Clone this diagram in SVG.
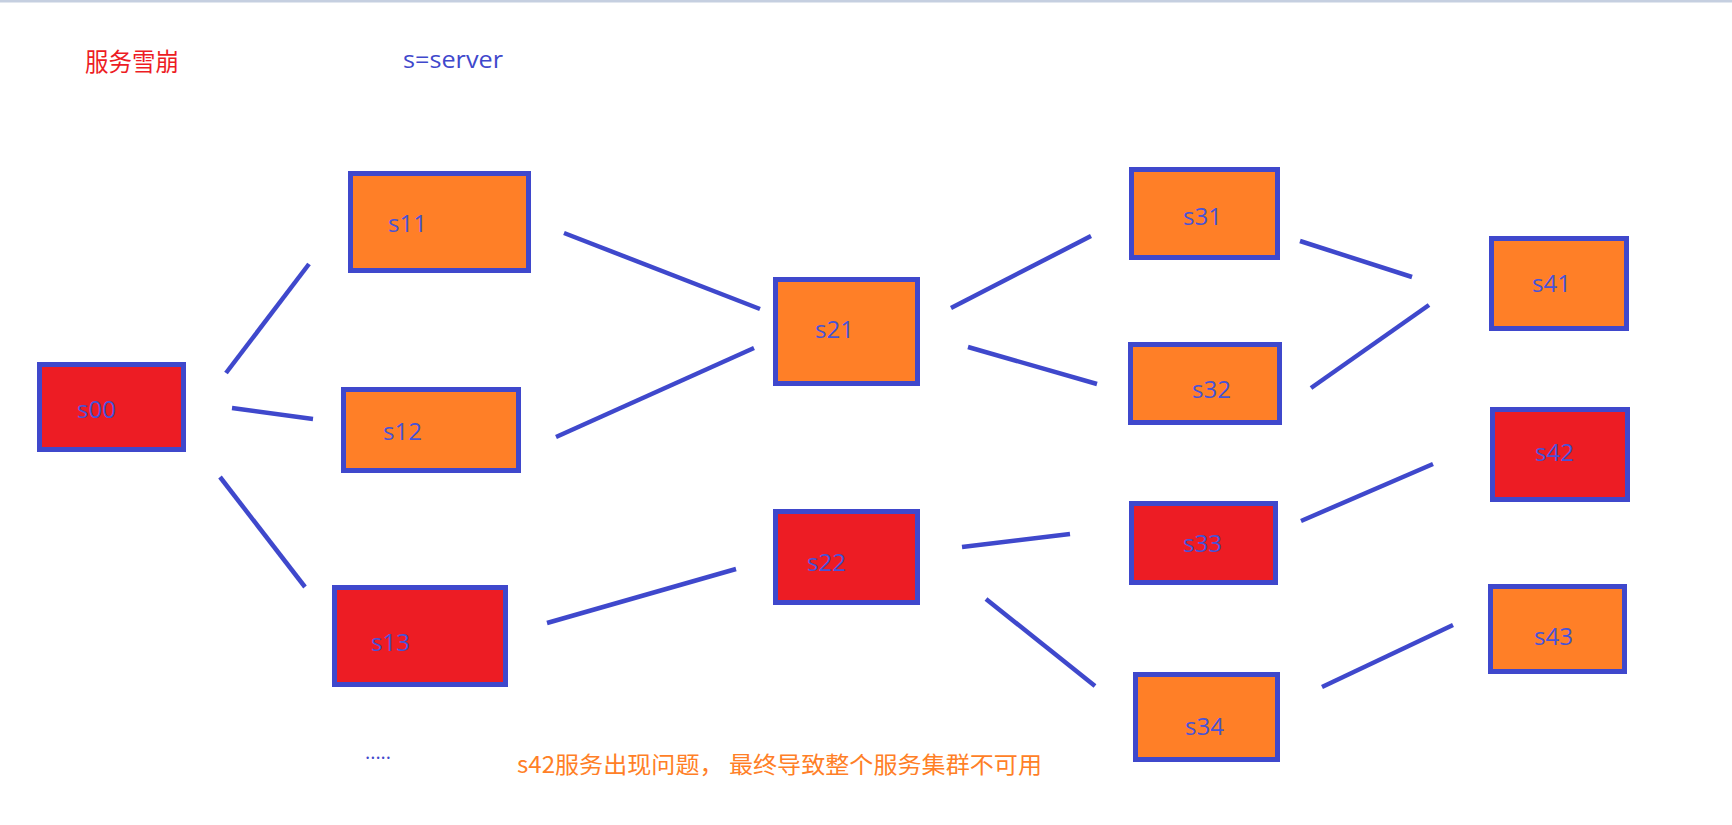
<svg xmlns="http://www.w3.org/2000/svg" width="1732" height="825" viewBox="0 0 1732 825">
<style>
.box{stroke:#3f48cc;stroke-width:5}
.or{fill:#ff7f27}
.rd{fill:#ed1c24}
.lbl{font-family:"Open Sans","Liberation Sans",sans-serif;font-size:24px;fill:#4653d8}
.ln{stroke:#3f48cc;stroke-width:4.5;stroke-linecap:butt;fill:none}
.cjk{font-family:"Noto Sans CJK SC","Noto Sans",sans-serif}
</style>
<rect x="0" y="0" width="1732" height="825" fill="#ffffff"/>
<rect x="0" y="0" width="1732" height="2.5" fill="#c5cfe0"/>
<text x="85" y="71" class="cjk" font-size="25" fill="#ed1c24" textLength="94" lengthAdjust="spacingAndGlyphs">服务雪崩</text>
<text x="403" y="68" font-family="Open Sans, Liberation Sans, sans-serif" font-size="24" fill="#3f48cc" textLength="100" lengthAdjust="spacingAndGlyphs">s=server</text>
<g id="connectors">
<line class="ln" x1="226" y1="373" x2="309" y2="264"/>
<line class="ln" x1="232" y1="408" x2="313" y2="419"/>
<line class="ln" x1="220" y1="477" x2="305" y2="587"/>
<line class="ln" x1="564" y1="233" x2="760" y2="309"/>
<line class="ln" x1="556" y1="437" x2="754" y2="348"/>
<line class="ln" x1="547" y1="623" x2="736" y2="569"/>
<line class="ln" x1="951" y1="308" x2="1091" y2="236"/>
<line class="ln" x1="968" y1="347" x2="1097" y2="384"/>
<line class="ln" x1="962" y1="547" x2="1070" y2="534"/>
<line class="ln" x1="986" y1="599" x2="1095" y2="686"/>
<line class="ln" x1="1300" y1="241" x2="1412" y2="277"/>
<line class="ln" x1="1311" y1="388" x2="1429" y2="305"/>
<line class="ln" x1="1301" y1="521" x2="1433" y2="464"/>
<line class="ln" x1="1322" y1="687" x2="1453" y2="625"/>
</g>
<g id="s00"><rect class="box rd" x="39.5" y="364.5" width="144" height="85"/><text class="lbl" x="77" y="418">s00</text></g>
<g id="s11"><rect class="box or" x="350.5" y="173.5" width="178" height="97"/><text class="lbl" x="388" y="232">s11</text></g>
<g id="s12"><rect class="box or" x="343.5" y="389.5" width="175" height="81"/><text class="lbl" x="383" y="440">s12</text></g>
<g id="s13"><rect class="box rd" x="334.5" y="587.5" width="171" height="97"/><text class="lbl" x="371" y="651">s13</text></g>
<g id="s21"><rect class="box or" x="775.5" y="279.5" width="142" height="104"/><text class="lbl" x="815" y="338">s21</text></g>
<g id="s22"><rect class="box rd" x="775.5" y="511.5" width="142" height="91"/><text class="lbl" x="807" y="571">s22</text></g>
<g id="s31"><rect class="box or" x="1131.5" y="169.5" width="146" height="88"/><text class="lbl" x="1183" y="225">s31</text></g>
<g id="s32"><rect class="box or" x="1130.5" y="344.5" width="149" height="78"/><text class="lbl" x="1192" y="398">s32</text></g>
<g id="s33"><rect class="box rd" x="1131.5" y="503.5" width="144" height="79"/><text class="lbl" x="1183" y="552">s33</text></g>
<g id="s34"><rect class="box or" x="1135.5" y="674.5" width="142" height="85"/><text class="lbl" x="1185" y="735">s34</text></g>
<g id="s41"><rect class="box or" x="1491.5" y="238.5" width="135" height="90"/><text class="lbl" x="1532" y="292">s41</text></g>
<g id="s42"><rect class="box rd" x="1492.5" y="409.5" width="135" height="90"/><text class="lbl" x="1535" y="461">s42</text></g>
<g id="s43"><rect class="box or" x="1490.5" y="586.5" width="134" height="85"/><text class="lbl" x="1534" y="645">s43</text></g>
<text x="365" y="759" font-family="Open Sans, Liberation Sans, sans-serif" font-size="20" fill="#3f48cc" textLength="26" lengthAdjust="spacingAndGlyphs">.....</text>
<text x="517" y="773" class="cjk" font-size="23" fill="#ff7f27" textLength="525" lengthAdjust="spacingAndGlyphs">s42服务出现问题， 最终导致整个服务集群不可用</text>
</svg>
